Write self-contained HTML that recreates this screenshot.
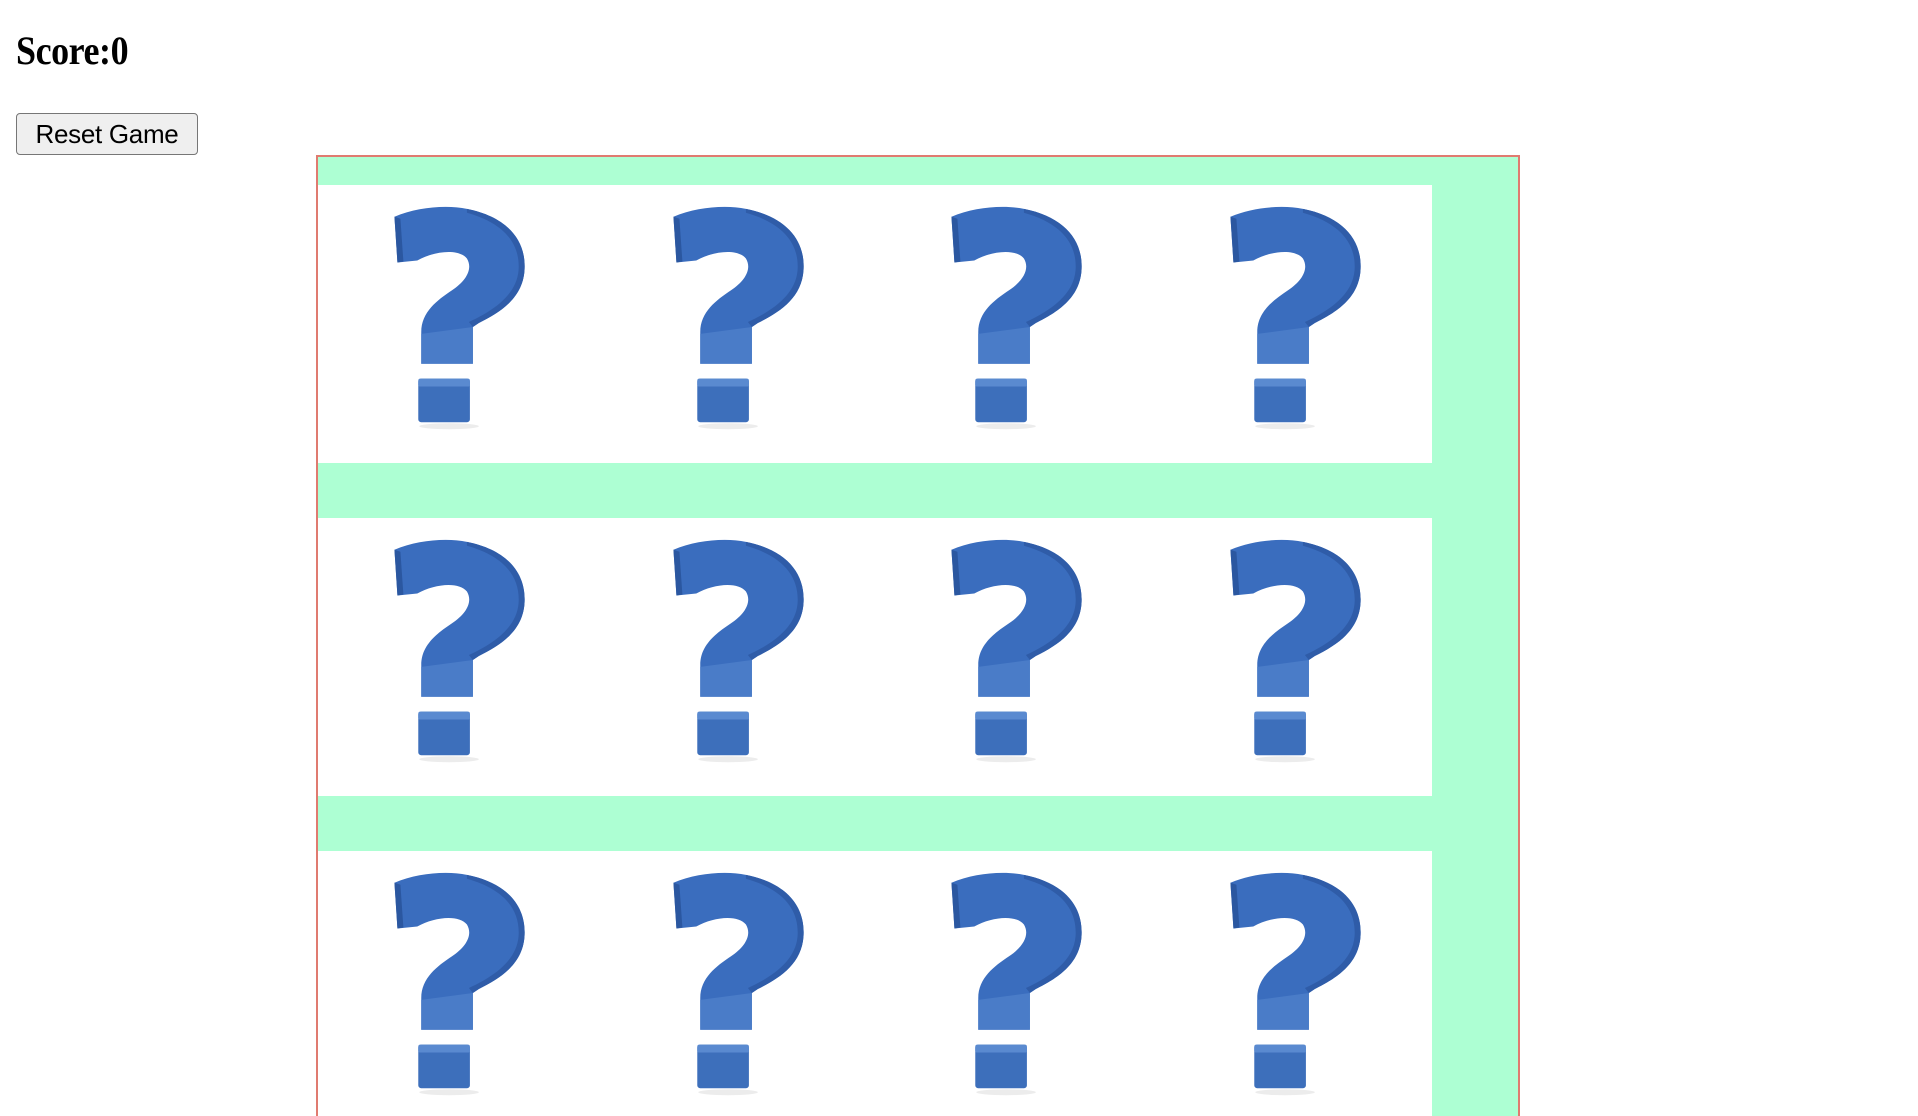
<!DOCTYPE html>
<html><head><meta charset="utf-8">
<style>
html,body{margin:0;padding:0;background:#fff;width:1918px;height:1116px;overflow:hidden;position:relative;font-family:"Liberation Serif",serif}
#score{position:absolute;left:16px;top:28px;font:bold 40px "Liberation Serif",serif;margin:0;color:#000;line-height:46px;transform:scaleX(0.9);transform-origin:0 0;letter-spacing:-0.5px}
#reset{position:absolute;left:16px;top:113px;width:182px;height:42px;box-sizing:border-box;background:#efefef;border:1.5px solid #767676;border-radius:4px;font:26px "Liberation Sans",sans-serif;color:#000;padding:0;letter-spacing:-0.3px}
#board{position:absolute;left:316px;top:155px;width:1204px;height:980px;box-sizing:border-box;border:2px solid #e07b70;background:#adffd3}
.row{position:absolute;left:0;width:1114px;height:278px;background:#fff}
.card{position:absolute;top:0;width:278px;height:278px}
</style></head><body>
<h1 id="score">Score:0</h1>
<button id="reset">Reset Game</button>
<div id="board"></div>
<svg width="0" height="0" style="position:absolute">
<defs>
<symbol id="qm" viewBox="0 0 280 280">
<path d="M77,32 C100,22 130,20 150,24 C190,32 210,55 208,86 C206,114 184,128 162,139 L156,143 L156,180 L104,180 L104,148 C104,128 120,116 135,106 C150,96 156,84 150,74 C142,64 118,66 100,76 L80,78 Z" fill="#3a6dbe"/>
<path d="M77,32 L80,78 L86,77 L83,34 Z" fill="#2b57a0"/>
<path d="M104,150 L156,143 L156,180 L104,180 Z" fill="#4a7cc8"/>
<path d="M150,24 C190,32 210,55 208,86 C206,114 184,128 162,139 L156,143 L152,138 C178,126 200,110 202,86 C204,58 186,38 150,28 Z" fill="#2f5ca8"/>
<rect x="101" y="195" width="52" height="44" rx="3" fill="#3d6fbb"/>
<rect x="101" y="195" width="52" height="8" rx="2" fill="#5a8ad0"/>
<ellipse cx="132" cy="243" rx="30" ry="3" fill="#ececec"/>
</symbol>
</defs>
</svg>
<script>
const rowsN = 3;
const colsN = 4;
const board = document.getElementById('board');
for (let r = 0; r < rowsN; r++) {
  const row = document.createElement('div');
  row.className = 'row';
  row.style.top = (28 + r * 333) + 'px';
  
  
  for (let c = 0; c < colsN; c++) {
    const card = document.createElementNS('http://www.w3.org/2000/svg', 'svg');
    card.setAttribute('class', 'card');
    card.setAttribute('viewBox', '0 0 280 280');
    card.style.left = (c * 278.5) + 'px';
    
    
    const u = document.createElementNS('http://www.w3.org/2000/svg', 'use');
    u.setAttribute('href', '#qm');
    u.setAttribute('width', '280');
    u.setAttribute('height', '280');
    card.appendChild(u);
    row.appendChild(card);
  }
  board.appendChild(row);
}
</script>
</body></html>
